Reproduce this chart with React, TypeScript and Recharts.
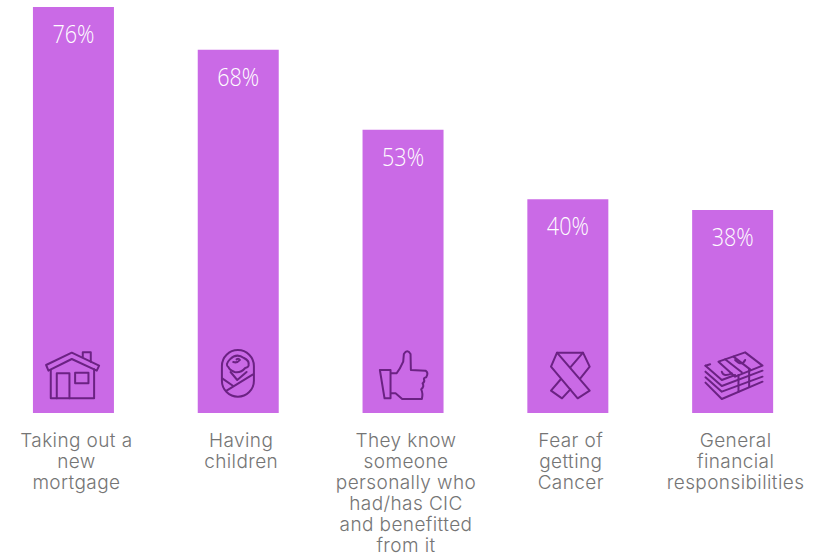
import React from "react";
import { BarChart, Bar, XAxis, YAxis, LabelList } from "recharts";

const categories = [
  "Taking out a|new|mortgage",
  "Having|children",
  "They know|someone|personally who|had/has CIC|and benefitted|from it",
  "Fear of|getting|Cancer",
  "General|financial|responsibilities",
];
const shares = [76, 68, 53, 40, 38];
const iconKeys = ["house", "baby", "thumb", "ribbon", "money"];
const rows = categories.map((category, i) => ({ category, share: shares[i], icon: iconKeys[i] }));

const BAR_FILL = "#ca6ae6";
const ICON_STROKE = "#6b2283";
const TEXT_GREY = "#757575";

// Line icons are authored on a 3x grid; `origin` is the grid point that sits
// at the bar's centre on the baseline.
const icons: Record<string, { origin: [number, number]; paths: string[] }> = {
  house: {
    origin: [160, 249],
    paths: [
      "M78 105L155 68L237 107L230 122L155 87L85 122Z",
      "M188 80V67H212V95",
      "M92 120V205H222V118",
      "M110 205V130H148V205",
      "M165 128H205V160H165Z",
    ],
  },
  baby: {
    origin: [655, 249],
    paths: [
      "M606 108A48 48 0 0 1 702 108V152A48 48 0 0 1 606 152Z",
      "M630 88Q650 68 672 84Q688 92 686 102Q688 112 676 114Q662 130 644 126Q628 120 626 112Q614 104 630 88Z",
      "M640 96Q652 100 660 90Q656 84 650 88",
      "M632 126L652 150L680 126",
      "M608 146L640 168",
      "M620 182L698 134",
    ],
  },
  thumb: {
    origin: [127.5, 249],
    paths: [
      "M58 120H90V205H72Z",
      "M92 130H108Q118 118 128 95L130 72Q140 56 150 72L151 120L195 122Q205 128 197 142Q190 144 190 146Q194 156 186 160Q192 170 182 178Q188 190 184 207H125L105 190H92",
    ],
  },
  ribbon: {
    origin: [622.5, 249],
    paths: [
      "M590 68H668L688 110L660 145",
      "M590 68L688 182L652 205L572 110Z",
      "M668 68L630 112",
      "M602 147L572 182L605 205L630 178",
    ],
  },
  money: {
    origin: [157.5, 249],
    paths: [
      "M115 95L195 67L247 107L165 140Z",
      "M135 88L185 127",
      "M160 80L210 118",
      "M76 107L90 103",
      "M76 107L125 150L165 135",
      "M76 125L125 168L247 122",
      "M76 142L125 185L247 140",
      "M76 158L125 207L247 155",
      "M175 135V185",
      "M207 118V170",
      "M125 125Q130 142 155 130",
      "M165 90Q185 110 195 90",
    ],
  },
};

const renderIcon = (props: any) => {
  const { x, y, width, height, value } = props;
  const icon = icons[value];
  if (!icon) return null;
  const cx = x + width / 2;
  const base = y + height;
  return (
    <g
      transform={`translate(${cx} ${base}) scale(${1 / 3}) translate(${-icon.origin[0]} ${-icon.origin[1]})`}
      fill="none"
      stroke={ICON_STROKE}
      strokeWidth={6}
      strokeLinejoin="round"
      strokeLinecap="round"
    >
      {icon.paths.map((d, i) => (
        <path key={i} d={d} />
      ))}
    </g>
  );
};

const renderValue = (props: any) => {
  const { x, y, width, value } = props;
  return (
    <text
      x={x + width / 2}
      y={y + 36}
      textAnchor="middle"
      fill="#ffffff"
      fontFamily="'Open Sans', sans-serif"
      fontWeight={300}
      fontSize={25}
      textLength={42}
      lengthAdjust="spacingAndGlyphs"
    >
      {`${value}%`}
    </text>
  );
};

const renderCategoryTick = (props: any) => {
  const { x, payload } = props;
  const lines: string[] = String(payload.value).split("|");
  return (
    <text
      textAnchor="middle"
      fill={TEXT_GREY}
      fontFamily="Inter, sans-serif"
      fontWeight={300}
      fontSize={19}
      letterSpacing={0.4}
    >
      {lines.map((line, i) => (
        <tspan key={i} x={x + 3} y={447 + i * 21}>
          {line}
        </tspan>
      ))}
    </text>
  );
};

export default function App() {
  return (
    <div style={{ position: "absolute", left: 0, top: 0, width: 816, height: 556, overflow: "hidden", background: "#fff" }}>
      <div style={{ marginLeft: -9 }}>
        <BarChart
          width={834}
          height={556}
          data={rows}
          margin={{ top: 7, right: 10, bottom: 0, left: 0 }}
          barCategoryGap="25.45%"
        >
          <XAxis
            dataKey="category"
            axisLine={false}
            tickLine={false}
            interval={0}
            tick={renderCategoryTick}
            height={143}
          />
          <YAxis hide domain={[0, 76]} />
          <Bar dataKey="share" fill={BAR_FILL} isAnimationActive={false}>
            <LabelList dataKey="share" content={renderValue} />
            <LabelList dataKey="icon" content={renderIcon} />
          </Bar>
        </BarChart>
      </div>
    </div>
  );
}
